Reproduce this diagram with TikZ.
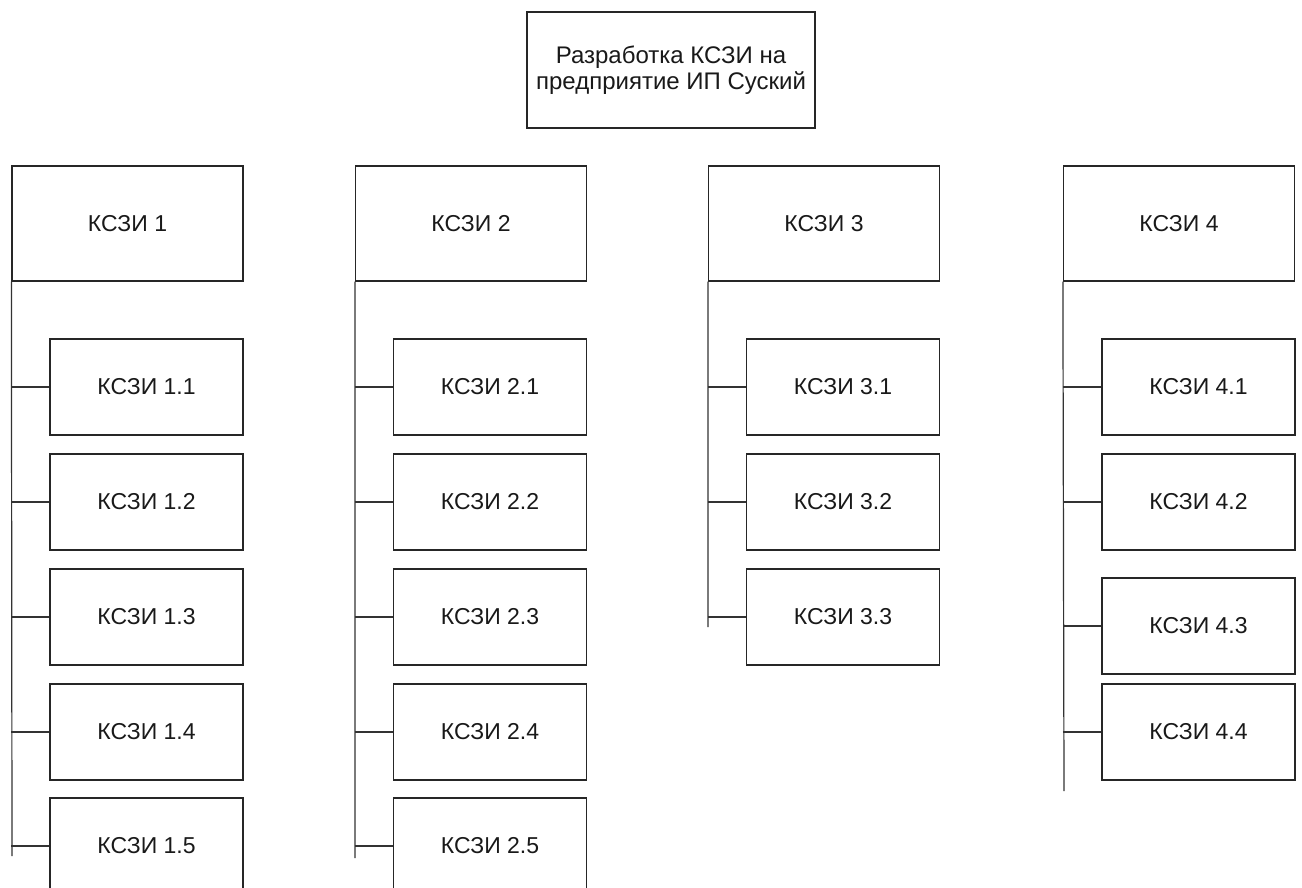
\documentclass[tikz,border=0pt]{standalone}
\usepackage{fontspec}
\setmainfont{Liberation Sans}
\begin{document}
\begin{tikzpicture}[x=1pt,y=-1pt,
  box/.style={draw=black!85, line width=1.2pt, rectangle, inner sep=0pt, align=center, font=\fontsize{23}{26}\selectfont, text=black!90},
  parentbox/.style={box, minimum width=231pt, minimum height=115pt},
  childbox/.style={box, minimum width=193pt, minimum height=96pt},
  topbox/.style={box, minimum width=288pt, minimum height=116pt, font=\fontsize{24}{25.5}\selectfont},
  link/.style={draw=black!80, line width=1.2pt}]
\clip (0,0) rectangle (1302,888);
\fill[white] (0,0) rectangle (1302,888);
\node[topbox] (top) at (671,70) {Разработка КСЗИ на\\предприятие ИП Суский};
% column 1
\node[parentbox] (p1) at (127.5,223.5) {КСЗИ 1};
\node[childbox] (c11) at (146.5,387) {КСЗИ 1.1};
\node[childbox] (c12) at (146.5,502) {КСЗИ 1.2};
\node[childbox] (c13) at (146.5,617) {КСЗИ 1.3};
\node[childbox] (c14) at (146.5,732) {КСЗИ 1.4};
\node[childbox] (c15) at (146.5,846) {КСЗИ 1.5};
\coordinate (e1) at (12,856);
% column 2
\node[parentbox] (p2) at (471,223.5) {КСЗИ 2};
\node[childbox] (c21) at (490,387) {КСЗИ 2.1};
\node[childbox] (c22) at (490,502) {КСЗИ 2.2};
\node[childbox] (c23) at (490,617) {КСЗИ 2.3};
\node[childbox] (c24) at (490,732) {КСЗИ 2.4};
\node[childbox] (c25) at (490,846) {КСЗИ 2.5};
\coordinate (e2) at (355,858);
% column 3
\node[parentbox] (p3) at (824,223.5) {КСЗИ 3};
\node[childbox] (c31) at (843,387) {КСЗИ 3.1};
\node[childbox] (c32) at (843,502) {КСЗИ 3.2};
\node[childbox] (c33) at (843,617) {КСЗИ 3.3};
\coordinate (e3) at (708,627);
% column 4
\node[parentbox] (p4) at (1179,223.5) {КСЗИ 4};
\node[childbox] (c41) at (1198.5,387) {КСЗИ 4.1};
\node[childbox] (c42) at (1198.5,502) {КСЗИ 4.2};
\node[childbox] (c43) at (1198.5,626) {КСЗИ 4.3};
\node[childbox] (c44) at (1198.5,732) {КСЗИ 4.4};
\coordinate (e4) at (1064,791);
% spines
\draw[link] (p1.south west) -- (e1);
\draw[link] (p2.south west) -- (e2);
\draw[link] (p3.south west) -- (e3);
\draw[link] (p4.south west) -- (e4);
% branches
\foreach \c in {c11,c12,c13,c14,c15} \draw[link] (\c.west -| p1.south west) -- (\c.west);
\foreach \c in {c21,c22,c23,c24,c25} \draw[link] (\c.west -| p2.south west) -- (\c.west);
\foreach \c in {c31,c32,c33} \draw[link] (\c.west -| p3.south west) -- (\c.west);
\foreach \c in {c41,c42,c43,c44} \draw[link] (\c.west -| p4.south west) -- (\c.west);
\end{tikzpicture}
\end{document}
